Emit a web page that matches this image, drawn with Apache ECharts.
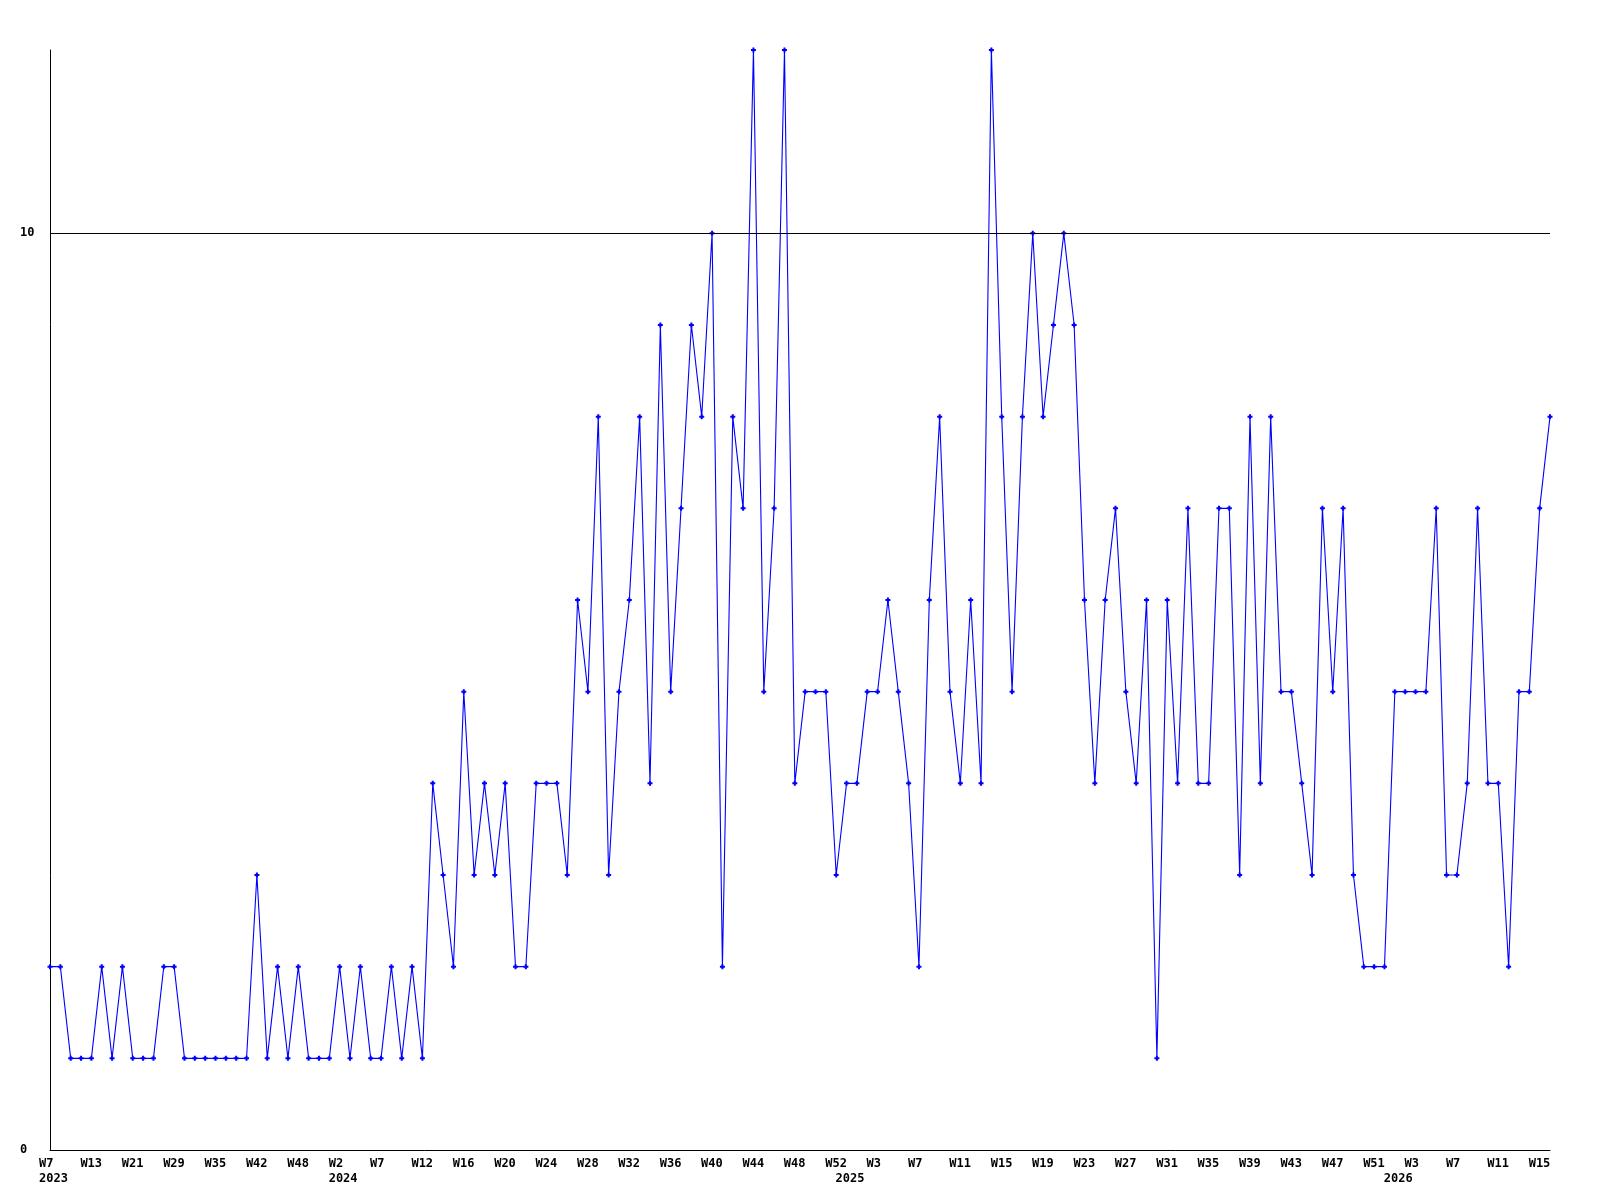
<!DOCTYPE html>
<html>
<head>
<meta charset="utf-8">
<script src="https://cdn.jsdelivr.net/npm/echarts@6/dist/echarts.min.js"></script>
<style>
html,body{margin:0;padding:0;background:#fff;}
#chart{width:1600px;height:1200px;}
</style>
</head>
<body>
<div id="chart"></div>
<script>
// Week categories per year (only weeks that have data)
const weeks2023 = ['W7','W8','W10','W11','W13','W15','W17','W19','W21','W23','W25','W27','W29','W31','W32','W33','W35','W36','W38','W40','W42','W43','W45','W46','W48','W49','W51','W52'];
const weeks2024 = ['W2','W3','W5','W6','W7','W9','W10','W11','W12','W13','W14','W15','W16','W17','W18','W19','W20','W21','W22','W23','W24','W25','W26','W27','W28','W29','W30','W31','W32','W33','W34','W35','W36','W37','W38','W39','W40','W41','W42','W43','W44','W45','W46','W47','W48','W49','W50','W51','W52'];
const weeks2025 = ['W0','W1','W2','W3','W4','W5','W6','W7','W8','W9','W10','W11','W12','W13','W14','W15','W16','W17','W18','W19','W20','W21','W22','W23','W24','W25','W26','W27','W28','W29','W30','W31','W32','W33','W34','W35','W36','W37','W38','W39','W40','W41','W42','W43','W44','W45','W46','W47','W48','W49','W50','W51','W52'];
const weeks2026 = ['W1','W2','W3','W4','W5','W6','W7','W8','W9','W10','W11','W12','W13','W14','W15','W16'];

// Weekly values
const values2023 = [2,2,1,1,1,2,1,2,1,1,1,2,2,1,1,1,1,1,1,1,3,1,2,1,2,1,1,1];
const values2024 = [2,1,2,1,1,2,1,2,1,4,3,2,5,3,4,3,4,2,2,4,4,4,3,6,5,8,3,5,6,8,4,9,5,7,9,8,10,2,8,7,12,5,7,12,4,5,5,5,3];
const values2025 = [4,4,5,5,6,5,4,2,6,8,5,4,6,4,12,8,5,8,10,8,9,10,9,6,4,6,7,5,4,6,1,6,4,7,4,4,7,7,3,8,4,8,5,5,4,3,7,5,7,3,2,2,2];
const values2026 = [5,5,5,5,7,3,3,4,7,4,4,2,5,5,7,8];

// Y tick labels shown
const yTickLabels = [0, 10];
const referenceLine = 10;

const yearGroups = [['2023', weeks2023], ['2024', weeks2024], ['2025', weeks2025], ['2026', weeks2026]];
const categories = [];
const yearStart = new Set();
yearGroups.forEach(([yr, wks]) => {
  yearStart.add(categories.length);
  wks.forEach(w => categories.push(yr + ' ' + w));
});
const values = values2023.concat(values2024, values2025, values2026);

const font = 'DejaVu Sans Mono';
const chart = echarts.init(document.getElementById('chart'), null, {renderer: 'canvas'});
chart.setOption({
  animation: false,
  backgroundColor: '#ffffff',
  grid: {left: 50, right: 50, top: 50, bottom: 50, containLabel: false},
  xAxis: {
    type: 'category',
    data: categories,
    boundaryGap: false,
    axisLine: {show: true, lineStyle: {color: '#000', width: 1}},
    axisTick: {show: false},
    splitLine: {show: false},
    axisLabel: {
      interval: (idx) => idx % 4 === 0 || yearStart.has(idx),
      align: 'center',
      margin: 6,
      formatter: (value, idx) => {
        const parts = value.split(' ');
        let s = (idx % 4 === 0) ? '{w|' + parts[1] + '}' : '{w| }';
        if (yearStart.has(idx)) s += '\n{w|' + parts[0] + '}';
        return s;
      },
      rich: {
        w: {width: 22, align: 'left', fontFamily: font, fontSize: 12, fontWeight: 'bold', color: '#000', lineHeight: 15}
      }
    }
  },
  yAxis: {
    type: 'value',
    min: 0,
    max: 12,
    interval: 10,
    axisLine: {show: true, lineStyle: {color: '#000', width: 1}},
    axisTick: {show: false},
    splitLine: {show: false},
    axisLabel: {
      align: 'left',
      margin: 30,
      fontFamily: font,
      fontSize: 12,
      fontWeight: 'bold',
      color: '#000',
      formatter: (v) => yTickLabels.indexOf(v) >= 0 ? String(v) : ''
    }
  },
  series: [{
    type: 'line',
    data: values,
    symbol: 'path://M1.5,0H3.5V1.5H5V3.5H3.5V5H1.5V3.5H0V1.5H1.5Z',
    symbolSize: 5,
    showAllSymbol: true,
    lineStyle: {color: '#0000ff', width: 1.1},
    itemStyle: {color: '#0000ff'},
    markLine: {
      silent: true,
      symbol: 'none',
      label: {show: false},
      lineStyle: {color: '#000', width: 1, type: 'solid'},
      data: [{yAxis: referenceLine}]
    }
  }]
});
</script>
</body>
</html>
